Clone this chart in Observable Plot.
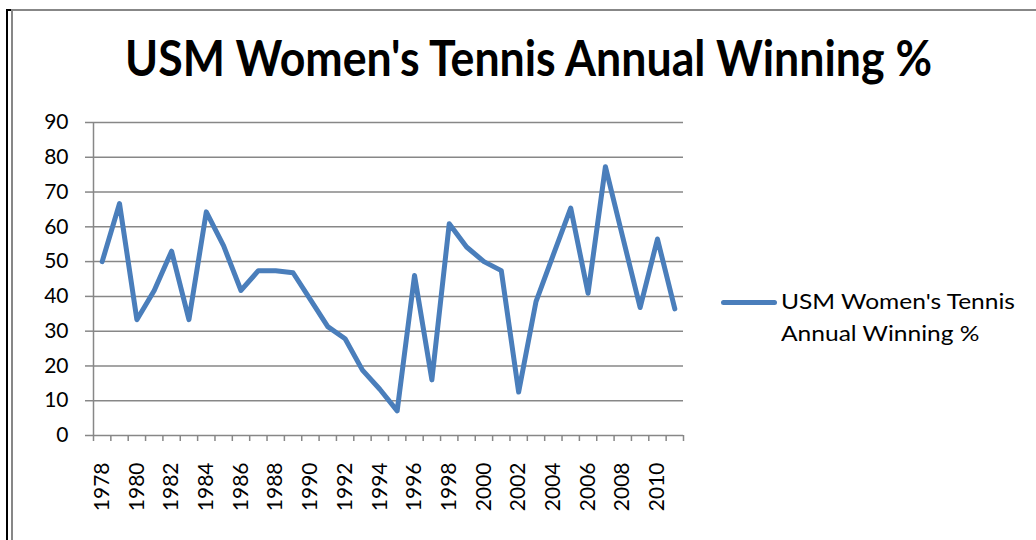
<!DOCTYPE html>
<html><head><meta charset="utf-8">
<script src="https://cdn.jsdelivr.net/npm/d3@7"></script>
<script src="https://cdn.jsdelivr.net/npm/@observablehq/plot@0.6"></script>
<style>
html,body{margin:0;padding:0;background:#fff;}
#wrap{position:relative;width:1036px;height:540px;overflow:hidden;background:#fff;font-family:Lato,sans-serif;}
.b{position:absolute;}
#title{position:absolute;left:125px;top:33px;font-weight:700;font-size:49px;white-space:nowrap;transform-origin:0 0;line-height:1;color:#000;}
#chart{position:absolute;left:0;top:0;}
#legend{position:absolute;left:721px;top:285px;}
#swatch{position:absolute;left:0;top:15px;width:56px;height:5px;border-radius:3px;background:#4a7ebb;}
#legtext{position:absolute;left:60px;top:0;font-size:21px;line-height:32px;white-space:nowrap;color:#000;transform-origin:0 0;}
</style></head><body>
<div id="wrap">
  <div class="b" style="left:6px;top:9px;width:2px;height:531px;background:#000"></div>
  <div class="b" style="left:6px;top:9px;width:6px;height:2px;background:#000"></div>
  <div class="b" style="left:11px;top:9px;width:2px;height:531px;background:#878787"></div>
  <div class="b" style="left:11px;top:9px;width:1025px;height:2px;background:#878787"></div>
  <div id="title"></div>
  <div id="chart"></div>
  <div id="legend"><div id="swatch"></div><div id="legtext"></div></div>
</div>
<script>
const chartTitle = "USM Women's Tennis Annual Winning %";
const seriesLines = ["USM Women's Tennis", "Annual Winning %"];
const years = [1978,1979,1980,1981,1982,1983,1984,1985,1986,1987,1988,1989,1990,1991,1992,1993,1994,1995,1996,1997,1998,1999,2000,2001,2002,2003,2004,2005,2006,2007,2008,2009,2010,2011];
const winPct = [50,66.7,33.3,41.7,53,33.3,64.3,54.5,41.7,47.4,47.4,46.8,39.1,31.3,27.8,18.8,13.3,7.1,46,16,60.9,54.2,50,47.4,12.5,38.5,52,65.4,40.9,77.3,57,36.8,56.5,36.4];
const yTicks = [0,10,20,30,40,50,60,70,80,90];
const xLabels = [1978,1980,1982,1984,1986,1988,1990,1992,1994,1996,1998,2000,2002,2004,2006,2008,2010];

const data = years.map((y, i) => ({year: y, pct: winPct[i]}));
const bounds = years.map(y => y - 0.5).concat([years[years.length - 1] + 0.5]);
const grey = "#878787";

const chart = Plot.plot({
  width: 1036, height: 540,
  marginLeft: 93, marginRight: 353, marginTop: 122, marginBottom: 105,
  style: {fontFamily: "Lato, sans-serif", fontSize: "21px", color: "#000", background: "transparent", overflow: "visible"},
  x: {type: "linear", domain: [bounds[0], bounds[bounds.length - 1]]},
  y: {domain: [0, 90]},
  marks: [
    Plot.gridY(yTicks, {stroke: grey, strokeOpacity: 1, strokeWidth: 1.5}),
    Plot.axisY(yTicks, {tickSize: 8, tickPadding: 17, stroke: grey, strokeWidth: 1.5, fill: "#000", label: null, tickFormat: d => String(d)}),
    Plot.axisX(bounds, {tickSize: 6, tickFormat: () => "", stroke: grey, strokeWidth: 1.5, label: null}),
    Plot.axisX(xLabels, {tickSize: 0, tickRotate: -90, tickPadding: 27, tickFormat: d => String(d), fill: "#000", label: null}),
    Plot.ruleX([bounds[0]], {y1: 0, y2: 90, stroke: grey, strokeWidth: 1.5}),
    Plot.line(data, {x: "year", y: "pct", stroke: "#4a7ebb", strokeWidth: 5})
  ]
});
document.getElementById("chart").appendChild(chart);

const t = document.getElementById("title");
t.textContent = chartTitle;
const tw = t.getBoundingClientRect().width;
t.style.transform = `scaleX(${807 / tw})`;

const lt = document.getElementById("legtext");
lt.innerHTML = "";
seriesLines.forEach(s => { const d = document.createElement("div"); d.textContent = s; lt.appendChild(d); });
const lw = lt.getBoundingClientRect().width;
lt.style.transform = `scaleX(${234 / lw})`;
</script>
</body></html>
